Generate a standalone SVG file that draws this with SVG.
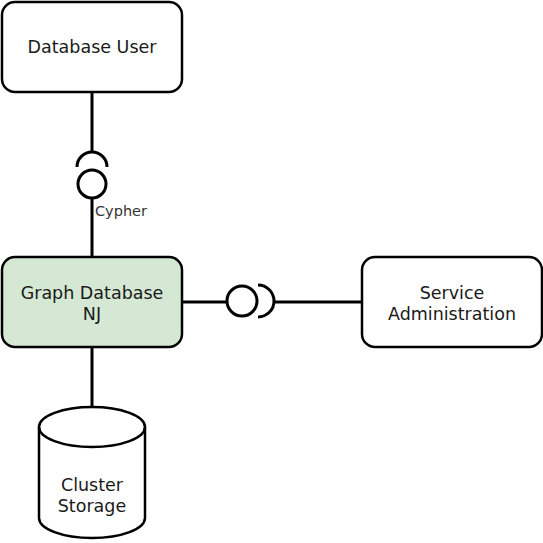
<svg xmlns="http://www.w3.org/2000/svg" width="543" height="543" viewBox="0 0 543 543">
<style>
.box{fill:#fff;stroke:#000;stroke-width:2.5}
.lbl{font-family:"DejaVu Sans",Verdana,sans-serif;font-size:17.5px;fill:#1a1a1a;text-anchor:middle}
.ln{fill:none;stroke:#000;stroke-width:3}
</style>
<rect width="543" height="543" fill="#fff"/>
<g id="connectors">
<path class="ln" d="M92 92V152"/>
<path class="ln" d="M77 167A15 15 0 0 1 107 167"/>
<circle class="ln" cx="92" cy="184" r="14"/>
<path class="ln" d="M92 198V257"/>
<text x="95" y="216" style="font-family:'DejaVu Sans',Verdana,sans-serif;font-size:14.5px;fill:#333">Cypher</text>
<path class="ln" d="M182 302H227"/>
<circle class="ln" cx="242" cy="301" r="15"/>
<path class="ln" d="M258 285A16 16 0 0 1 258 317"/>
<path class="ln" d="M273 302H362"/>
<path class="ln" d="M92 347V407"/>
</g>
<g id="database-user">
<rect class="box" x="2" y="2" width="180" height="90" rx="13"/>
<text class="lbl" x="92" y="53">Database User</text>
</g>
<g id="graph-database">
<rect class="box" x="2" y="257" width="180" height="90" rx="13" style="fill:#d5e8d4"/>
<text class="lbl" x="92" y="299">Graph Database</text>
<text class="lbl" x="92" y="320">NJ</text>
</g>
<g id="service-administration">
<rect class="box" x="362" y="257" width="180" height="90" rx="13"/>
<text class="lbl" x="452" y="299">Service</text>
<text class="lbl" x="452" y="320">Administration</text>
</g>
<g id="cluster-storage">
<path class="box" d="M39 427A53 20 0 0 1 145 427V518A53 20 0 0 1 39 518Z"/>
<path class="box" style="fill:none" d="M39 427A53 20 0 0 0 145 427"/>
<text class="lbl" x="92" y="491">Cluster</text>
<text class="lbl" x="92" y="512">Storage</text>
</g>
</svg>
